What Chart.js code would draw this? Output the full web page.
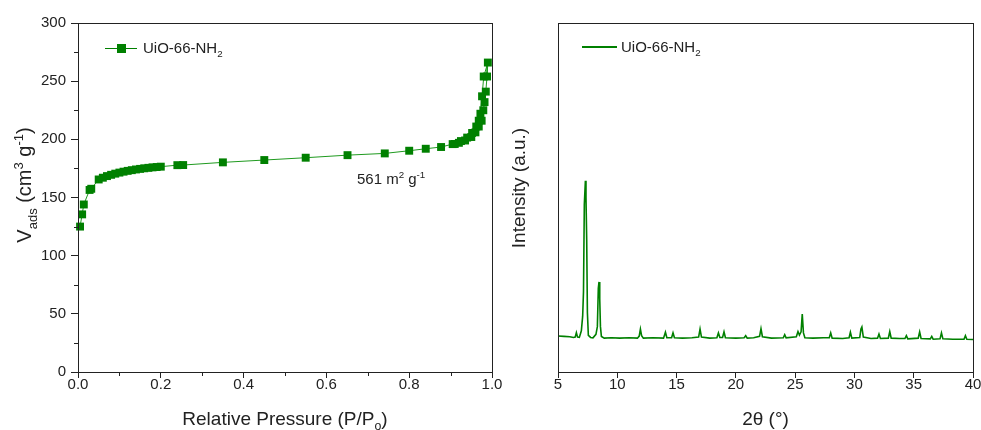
<!DOCTYPE html>
<html>
<head>
<meta charset="utf-8">
<title>UiO-66-NH2</title>
<script src="https://cdn.jsdelivr.net/npm/chart.js@4.4.1/dist/chart.umd.min.js"></script>
<style>
  body { margin: 0; background: #fff; }
  #wrap { position: relative; width: 981px; height: 430px; }
  canvas { position: absolute; top: 0; }
  #betChart { left: 0; }
  #xrdChart { left: 500px; }
</style>
</head>
<body>
<div id="wrap">
  <canvas id="betChart" width="512" height="430"></canvas>
  <canvas id="xrdChart" width="481" height="430"></canvas>
</div>
<script>
// N2 isotherm (adsorption then desorption)
const pressure = [0.005, 0.01, 0.014, 0.028, 0.032, 0.05, 0.06, 0.07, 0.08, 0.09, 0.1, 0.11, 0.12, 0.13, 0.14, 0.15, 0.16, 0.17, 0.18, 0.19, 0.2,
  0.24, 0.254, 0.35, 0.45, 0.55, 0.651, 0.741, 0.8, 0.84, 0.877, 0.905, 0.925, 0.94, 0.952, 0.962, 0.968, 0.972, 0.976, 0.98, 0.99,
  0.988, 0.985, 0.982, 0.979, 0.975, 0.968, 0.96, 0.95, 0.935, 0.92, 0.91];
const volumeAds = [125, 135.5, 144, 156.5, 157.5, 165.5, 167, 168.4, 169.5, 170.5, 171.4, 172.2, 172.9, 173.5, 174.1, 174.6, 175.1, 175.5, 175.9, 176.2, 176.5,
  177.8, 177.9, 180.2, 182.2, 184.2, 186.4, 187.9, 190.2, 191.9, 193.4, 195.9, 198.5, 201.5, 205.5, 211, 216, 222, 237, 254, 266,
  254, 241, 232, 225, 216, 211, 206, 202, 199, 197, 196];

// XRD pattern
const twoTheta = [5.0, 5.5, 6.0, 6.3, 6.45, 6.55, 6.65, 6.8, 6.97, 7.08, 7.15, 7.22, 7.31, 7.36, 7.42, 7.48, 7.56, 7.75, 7.95,
  8.2, 8.32, 8.4, 8.46, 8.52, 8.58, 8.66, 8.9, 9.5, 10.2, 11.0, 11.7, 11.85, 11.95, 12.05, 12.2, 13.0, 13.9, 14.06, 14.18,
  14.58, 14.7, 14.82, 15.5, 16.3, 16.86, 16.98, 17.1, 17.8, 18.4, 18.53, 18.65, 18.88, 19.0, 19.12, 20.0, 20.7, 20.83, 20.96,
  21.5, 22.0, 22.12, 22.24, 23.0, 24.0, 24.12, 24.24, 25.1, 25.24, 25.36, 25.5, 25.6, 25.7, 25.82, 26.5, 27.4, 27.88, 28.0,
  28.12, 29.0, 29.55, 29.66, 29.78, 30.45, 30.55, 30.63, 30.75, 31.4, 31.95, 32.07, 32.19, 32.86, 32.98, 33.1, 33.8, 34.26,
  34.38, 34.5, 35.38, 35.5, 35.62, 36.4, 36.52, 36.64, 37.22, 37.34, 37.46, 38.3, 39.24, 39.36, 39.48, 40.0];
const intensity = [10.3, 10.2, 10.1, 9.9, 10.0, 11.3, 10.0, 9.9, 11.8, 16, 23, 48, 54.8, 50, 38, 17, 10.5, 9.9, 9.8,
  10.8, 13, 24, 25.8, 21, 13, 10.2, 9.7, 9.8, 9.7, 9.8, 9.7, 10.3, 12.3, 10.4, 9.7, 9.8, 9.7, 11.4, 9.8,
  9.8, 11.2, 9.8, 9.7, 9.8, 10.0, 12.3, 10.0, 9.7, 9.8, 11.2, 9.9, 9.9, 11.5, 9.8, 9.7, 9.8, 10.4, 9.7,
  9.8, 10.2, 12.4, 10.1, 9.7, 9.8, 10.7, 9.8, 10.1, 11.6, 10.6, 11.5, 16.6, 11.2, 9.8, 9.7, 9.8, 9.8, 11.2,
  9.7, 9.6, 9.8, 11.4, 9.7, 9.9, 12.3, 12.9, 10.0, 9.6, 9.7, 10.9, 9.6, 9.7, 11.6, 9.7, 9.6, 9.6,
  10.4, 9.5, 9.7, 11.5, 9.6, 9.5, 10.2, 9.4, 9.5, 11.2, 9.5, 9.4, 9.4, 10.4, 9.4, 9.3];

// tick values
const pressureTicks = [0, 0.2, 0.4, 0.6, 0.8, 1.0];
const pressureMinor = [0.1, 0.3, 0.5, 0.7, 0.9];
const volumeTicks = [0, 50, 100, 150, 200, 250, 300];
const volumeMinor = [25, 75, 125, 175, 225, 275];
const thetaTicks = [5, 10, 15, 20, 25, 30, 35, 40];

const FONT = "'Liberation Sans', Arial, sans-serif";
const GREEN = "#008000";
const INK = "#222";

// draws text with sub/superscripts, parts = [[text, 'sub'|'sup'|undefined]]
function drawRich(ctx, parts, x, y, size, align, rotate) {
  ctx.save();
  ctx.translate(x, y);
  if (rotate) ctx.rotate(-Math.PI / 2);
  ctx.fillStyle = INK;
  ctx.textBaseline = "alphabetic";
  ctx.textAlign = "left";
  const sizes = parts.map(p => p[1] ? size * 0.65 : size);
  let total = 0;
  parts.forEach((p, i) => {
    ctx.font = sizes[i] + "px " + FONT;
    total += ctx.measureText(p[0]).width;
  });
  let cx = align === "left" ? 0 : -total / 2;
  const base = size * 0.35;
  parts.forEach((p, i) => {
    ctx.font = sizes[i] + "px " + FONT;
    let dy = 0;
    if (p[1] === "sub") dy = size * 0.28;
    if (p[1] === "sup") dy = -size * 0.42;
    ctx.fillText(p[0], cx, base + dy);
    cx += ctx.measureText(p[0]).width;
  });
  ctx.restore();
}

// box around the plot area
function drawFrame(chart) {
  const a = chart.chartArea;
  const ctx = chart.ctx;
  ctx.save();
  ctx.strokeStyle = INK;
  ctx.lineWidth = 1;
  ctx.strokeRect(a.left + 0.5, a.top + 0.5, a.right - a.left, a.bottom - a.top);
  ctx.restore();
}

function minorTicks(chart, scaleId, values, len) {
  const s = chart.scales[scaleId];
  const ctx = chart.ctx;
  ctx.save();
  ctx.strokeStyle = INK;
  ctx.lineWidth = 1;
  ctx.beginPath();
  values.forEach(v => {
    const p = Math.round(s.getPixelForValue(v)) + 0.5;
    if (s.axis === "x") {
      ctx.moveTo(p, s.top);
      ctx.lineTo(p, s.top + len);
    } else {
      ctx.moveTo(s.right, p);
      ctx.lineTo(s.right - len, p);
    }
  });
  ctx.stroke();
  ctx.restore();
}

function tickFont() {
  return { family: FONT, size: 15 };
}

// fixed axis sizes, no extra room for the end labels
function fixX(s) {
  s.height = 58;
  s.paddingLeft = 0;
  s.paddingRight = 0;
}

const betDecor = {
  id: "betDecor",
  afterDraw(chart) {
    const ctx = chart.ctx;
    drawFrame(chart);
    minorTicks(chart, "x", pressureMinor, 4);
    minorTicks(chart, "y", volumeMinor, 4);
    // legend
    ctx.save();
    ctx.strokeStyle = GREEN;
    ctx.lineWidth = 1;
    ctx.beginPath();
    ctx.moveTo(105, 48.5);
    ctx.lineTo(137, 48.5);
    ctx.stroke();
    ctx.fillStyle = GREEN;
    ctx.fillRect(117, 44, 9, 9);
    ctx.restore();
    drawRich(ctx, [["UiO-66-NH"], ["2", "sub"]], 143, 48, 15, "left");
    drawRich(ctx, [["561 m"], ["2", "sup"], [" g"], ["-1", "sup"]], 357, 179, 15, "left");
    // axis titles
    drawRich(ctx, [["Relative Pressure (P/P"], ["o", "sub"], [")"]], 285, 418, 19, "center");
    drawRich(ctx, [["V"], ["ads", "sub"], [" (cm"], ["3", "sup"], [" g"], ["-1", "sup"], [")"]], 24, 185, 20, "center", true);
  }
};

const xrdDecor = {
  id: "xrdDecor",
  afterDraw(chart) {
    const ctx = chart.ctx;
    drawFrame(chart);
    ctx.save();
    ctx.strokeStyle = GREEN;
    ctx.lineWidth = 2;
    ctx.beginPath();
    ctx.moveTo(82, 47);
    ctx.lineTo(117, 47);
    ctx.stroke();
    ctx.restore();
    drawRich(ctx, [["UiO-66-NH"], ["2", "sub"]], 121, 47, 15, "left");
    drawRich(ctx, [["2\u03b8 (\u00b0)"]], 265.5, 418, 19, "center");
    drawRich(ctx, [["Intensity (a.u.)"]], 18, 188, 19, "center", true);
  }
};

// isotherm chart
new Chart(document.getElementById("betChart"), {
  type: "scatter",
  data: {
    datasets: [{
      label: "UiO-66-NH2",
      data: pressure.map((p, i) => ({ x: p, y: volumeAds[i] })),
      showLine: true,
      borderColor: "#1f9a1f",
      borderWidth: 1,
      backgroundColor: GREEN,
      pointStyle: "rect",
      pointRadius: 5.6,
      pointBorderWidth: 0,
      pointBackgroundColor: GREEN,
      clip: false
    }]
  },
  options: {
    responsive: false,
    animation: false,
    layout: { padding: { top: 23, right: 20, left: 0, bottom: 0 } },
    plugins: { legend: { display: false }, tooltip: { enabled: false } },
    scales: {
      x: {
        type: "linear", min: 0, max: 1,
        afterBuildTicks: s => { s.ticks = pressureTicks.map(v => ({ value: v })); },
        afterFit: fixX,
        grid: { drawOnChartArea: false, drawTicks: true, tickLength: 6, tickColor: INK },
        border: { color: INK, width: 1 },
        ticks: { color: INK, font: tickFont(), padding: -2, callback: v => v.toFixed(1), maxRotation: 0 }
      },
      y: {
        type: "linear", min: 0, max: 300,
        afterBuildTicks: s => { s.ticks = volumeTicks.map(v => ({ value: v })); },
        afterFit: s => { s.width = 78; },
        grid: { drawOnChartArea: false, drawTicks: true, tickLength: 7, tickColor: INK },
        border: { color: INK, width: 1 },
        ticks: { color: INK, font: tickFont(), padding: 5 }
      }
    }
  },
  plugins: [betDecor]
});

// XRD chart
new Chart(document.getElementById("xrdChart"), {
  type: "scatter",
  data: {
    datasets: [{
      label: "UiO-66-NH2",
      data: twoTheta.map((t, i) => ({ x: t, y: intensity[i] })),
      showLine: true,
      borderColor: GREEN,
      borderWidth: 1.6,
      pointRadius: 0,
      tension: 0
    }]
  },
  options: {
    responsive: false,
    animation: false,
    layout: { padding: { top: 23, right: 8, left: 0, bottom: 0 } },
    plugins: { legend: { display: false }, tooltip: { enabled: false } },
    scales: {
      x: {
        type: "linear", min: 5, max: 40,
        afterBuildTicks: s => { s.ticks = thetaTicks.map(v => ({ value: v })); },
        afterFit: fixX,
        grid: { drawOnChartArea: false, drawTicks: true, tickLength: 6, tickColor: INK },
        border: { color: INK, width: 1 },
        ticks: { color: INK, font: tickFont(), padding: -2, maxRotation: 0 }
      },
      y: {
        type: "linear", min: 0, max: 100,
        afterFit: s => { s.width = 58; },
        grid: { display: false, drawTicks: false },
        border: { color: INK, width: 1 },
        ticks: { display: false }
      }
    }
  },
  plugins: [xrdDecor]
});
</script>
</body>
</html>
